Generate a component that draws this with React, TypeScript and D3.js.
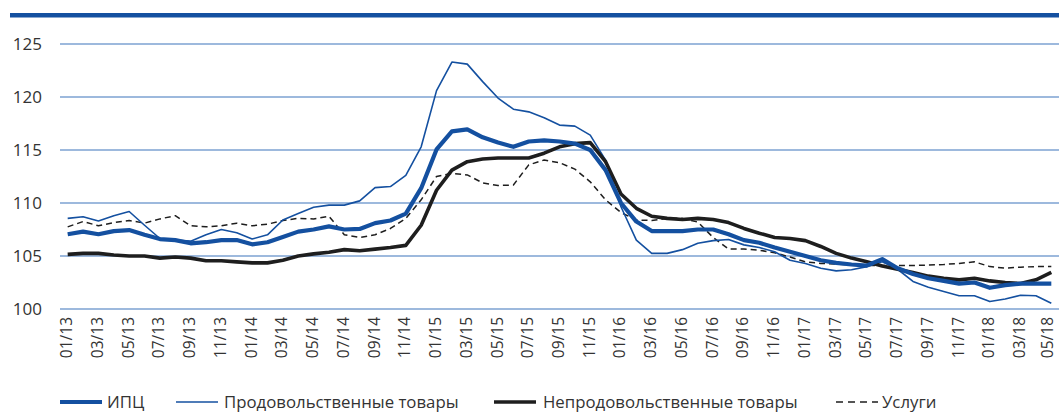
import React from "react";
import * as d3 from "d3";

const months: string[] = [];
for (let y = 13; y <= 18; y++) {
  for (let m = 1; m <= 12; m++) {
    if (y === 18 && m > 5) break;
    months.push(`${String(m).padStart(2, "0")}/${y}`);
  }
}

const cpi = [107.05, 107.3, 107.05, 107.35, 107.45, 107.0, 106.6, 106.5, 106.2, 106.3, 106.5, 106.5, 106.1, 106.3, 106.8, 107.3, 107.5, 107.8, 107.5, 107.55, 108.1, 108.35, 109.0, 111.4, 115.05, 116.75, 116.95, 116.2, 115.7, 115.3, 115.8, 115.9, 115.8, 115.6, 115.0, 113.1, 110.0, 108.25, 107.35, 107.35, 107.35, 107.5, 107.5, 107.05, 106.5, 106.25, 105.8, 105.4, 105.0, 104.6, 104.35, 104.2, 104.1, 104.7, 103.85, 103.3, 102.9, 102.65, 102.4, 102.5, 102.0, 102.25, 102.4, 102.4, 102.4];
const food = [108.55, 108.7, 108.3, 108.8, 109.2, 107.9, 106.65, 106.5, 106.4, 107.0, 107.5, 107.2, 106.6, 107.0, 108.4, 109.0, 109.6, 109.8, 109.8, 110.2, 111.45, 111.55, 112.6, 115.3, 120.6, 123.3, 123.1, 121.45, 119.9, 118.85, 118.6, 118.05, 117.35, 117.25, 116.4, 114.05, 109.65, 106.5, 105.25, 105.25, 105.6, 106.2, 106.45, 106.55, 106.05, 105.8, 105.4, 104.6, 104.3, 103.85, 103.6, 103.7, 104.0, 104.45, 103.75, 102.6, 102.05, 101.65, 101.25, 101.25, 100.7, 100.95, 101.3, 101.25, 100.55];
const nonFood = [105.15, 105.25, 105.25, 105.1, 105.0, 105.0, 104.8, 104.9, 104.8, 104.55, 104.55, 104.45, 104.35, 104.35, 104.6, 105.0, 105.2, 105.35, 105.6, 105.5, 105.65, 105.8, 106.0, 107.9, 111.2, 113.1, 113.9, 114.15, 114.25, 114.25, 114.25, 114.7, 115.3, 115.6, 115.7, 113.9, 110.85, 109.5, 108.75, 108.55, 108.45, 108.55, 108.45, 108.15, 107.6, 107.15, 106.75, 106.65, 106.45, 105.9, 105.25, 104.8, 104.45, 104.05, 103.75, 103.45, 103.1, 102.9, 102.75, 102.9, 102.65, 102.5, 102.4, 102.75, 103.45];
const services = [107.75, 108.25, 107.85, 108.15, 108.35, 108.1, 108.5, 108.8, 107.85, 107.75, 107.85, 108.1, 107.85, 108.0, 108.35, 108.55, 108.5, 108.75, 107.0, 106.75, 107.0, 107.6, 108.55, 110.3, 112.5, 112.8, 112.65, 111.9, 111.65, 111.7, 113.6, 114.05, 113.8, 113.2, 112.0, 110.3, 109.1, 108.4, 108.35, 108.55, 108.55, 108.2, 106.75, 105.65, 105.65, 105.55, 105.3, 104.9, 104.45, 104.3, 104.25, 104.15, 104.1, 104.1, 104.1, 104.1, 104.15, 104.2, 104.3, 104.45, 104.0, 103.85, 103.95, 104.0, 104.0];

const yTicks = [100, 105, 110, 115, 120, 125];
const seriesNames = ["ИПЦ", "Продовольственные товары", "Непродовольственные товары", "Услуги"];

const BLUE = "#1450a0";
const DARK = "#1e1e1e";
const FONT = "'Open Sans', sans-serif";

export default function App() {
  const W = 1059, H = 413;
  const x = d3.scalePoint<string>().domain(months).range([60, 1059]).padding(0.5);
  const y = d3.scaleLinear().domain([100, 125]).range([309, 44]);
  const line = d3.line<number>().x((_, i) => x(months[i]) as number).y((d) => y(d));

  const series = [
    { name: seriesNames[3], data: services, color: DARK, width: 1.5, dash: "6,4" },
    { name: seriesNames[1], data: food, color: BLUE, width: 1.6, dash: undefined },
    { name: seriesNames[2], data: nonFood, color: DARK, width: 3.6, dash: undefined },
    { name: seriesNames[0], data: cpi, color: BLUE, width: 4.2, dash: undefined },
  ];

  const legend = [
    { name: seriesNames[0], x: 60, tx: 107, color: BLUE, width: 4.2, dash: undefined },
    { name: seriesNames[1], x: 176, tx: 224, color: BLUE, width: 1.6, dash: undefined },
    { name: seriesNames[2], x: 494, tx: 543, color: DARK, width: 3.6, dash: undefined },
    { name: seriesNames[3], x: 836, tx: 882, color: DARK, width: 1.5, dash: "7,5" },
  ];

  return (
    <svg width={W} height={H} style={{ position: "absolute", left: 0, top: 0, background: "#fff" }} fontFamily={FONT}>
      <rect x={10} y={13} width={1049} height={4.5} fill={BLUE} />
      {yTicks.map((t) => (
        <g key={t}>
          <line x1={60} x2={1059} y1={y(t)} y2={y(t)} stroke="#7da2d2" strokeWidth={1.5} />
          <text x={42} y={y(t)} dy="0.35em" textAnchor="end" fontSize={17} fill="#333">{t}</text>
        </g>
      ))}
      {months.map((m, i) =>
        i % 2 === 0 ? (
          <text key={m} transform={`translate(${Math.min((x(m) as number) + 4.5, 1053)},317) rotate(-90)`} textAnchor="end" fontSize={15.5} fill="#333">{m}</text>
        ) : null
      )}
      {series.map((s) => (
        <path key={s.name} d={line(s.data) || ""} fill="none" stroke={s.color} strokeWidth={s.width} strokeDasharray={s.dash} strokeLinejoin="round" />
      ))}
      {legend.map((l) => (
        <g key={l.name}>
          <line x1={l.x} x2={l.x + 42} y1={402} y2={402} stroke={l.color} strokeWidth={l.width} strokeDasharray={l.dash} />
          <text x={l.tx} y={402} dy="0.35em" fontSize={16.8} fill="#333">{l.name}</text>
        </g>
      ))}
    </svg>
  );
}
